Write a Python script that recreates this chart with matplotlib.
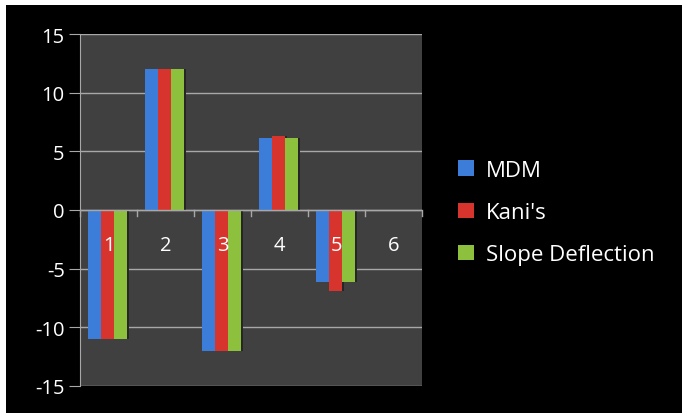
import matplotlib
matplotlib.use("Agg")
import matplotlib.pyplot as plt
import numpy as np
from matplotlib.patches import Rectangle

categories = ["1", "2", "3", "4", "5", "6"]
mdm = [-11, 12, -12, 6.1, -6.1, 0]
kani = [-11, 12, -12, 6.3, -6.9, 0]
slope = [-11, 12, -12, 6.1, -6.1, 0]
series_names = ["MDM", "Kani's", "Slope Deflection"]
colors = ["#3B7DD8", "#D7342D", "#8DC03C"]
yticks = [-15, -10, -5, 0, 5, 10, 15]

plt.rcParams['font.family'] = ['Open Sans', 'DejaVu Sans']

fig = plt.figure(figsize=(6.82, 4.14), dpi=100, facecolor="white")
fig.patches.append(Rectangle((6/682, 0), 1, 408/414, transform=fig.transFigure,
                             facecolor="black", edgecolor="none", zorder=-10))

ax = fig.add_axes([80/682, 1-387/414, 342/682, 352/414])
ax.set_facecolor("#404040")

x = np.arange(len(categories))
w = 0.225
for i, (vals, c, name) in enumerate(zip([mdm, kani, slope], colors, series_names)):
    pos = x + (i - 1) * w - 0.02
    # shadow
    ax.bar(pos + 0.04, vals, w, color="#262626", zorder=2)
    ax.bar(pos, vals, w, color=c, label=name, zorder=3, linewidth=0)

ax.set_xlim(-0.5, len(categories) - 0.5)
ax.set_ylim(-15, 15)
ax.set_yticks(yticks)
ax.set_yticklabels([str(v) for v in yticks], color="white", fontsize=14.5)
ax.yaxis.grid(True, color="#A8A8A8", linewidth=1, zorder=1)
ax.set_axisbelow(True)
ax.tick_params(axis="y", colors="#A8A8A8", length=8, labelcolor="white", pad=3)

for s in ["top", "right"]:
    ax.spines[s].set_visible(False)
ax.spines["left"].set_color("#A8A8A8")
ax.spines["bottom"].set_visible(False)
ax.axhline(0, color="#A8A8A8", linewidth=1, zorder=4)

ax.set_xticks(np.arange(len(categories) + 1) - 0.5)
ax.set_xticklabels([])
ax.tick_params(axis="x", length=0)
for xi in np.arange(len(categories) + 1) - 0.5:
    ax.plot([xi, xi], [0, -0.5], color="#A8A8A8", linewidth=1, zorder=4, clip_on=False)
for xi, lab in zip(x, categories):
    ax.text(xi, -3.0, lab, color="white", fontsize=14.5, ha="center", va="center", zorder=5)

leg = fig.legend(loc="upper left", bbox_to_anchor=(438/682, 1-141/414), frameon=False,
                 fontsize=16, labelcolor="white", handlelength=0.7, handleheight=0.7,
                 labelspacing=0.95, handletextpad=0.55)

fig.savefig("out.png", dpi=100, facecolor=fig.get_facecolor())
